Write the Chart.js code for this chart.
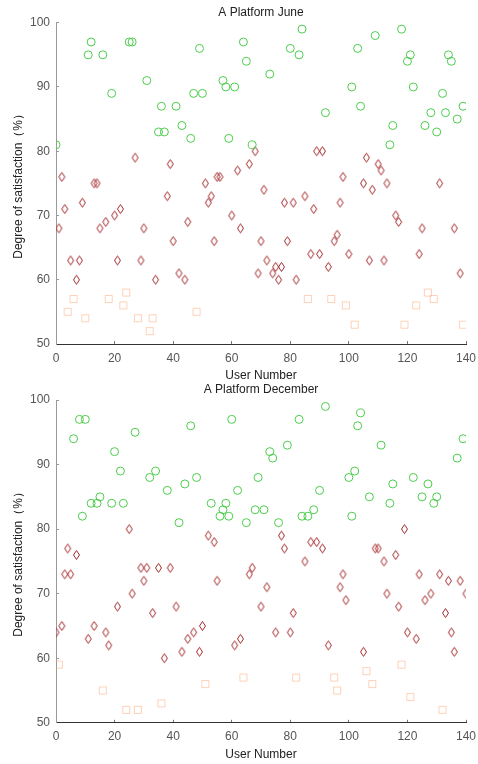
<!DOCTYPE html>
<html>
<head>
<meta charset="utf-8">
<script src="https://cdn.jsdelivr.net/npm/chart.js@4.4.1/dist/chart.umd.min.js"></script>
<style>
  body { margin: 0; background: #fff; }
  canvas { position: absolute; left: 0; }
</style>
</head>
<body>
<canvas id="juneChart" width="478" height="382" style="top:0"></canvas>
<canvas id="decChart" width="478" height="382" style="top:382px"></canvas>
<script>
// satisfaction data, [user number, satisfaction %]
var juneHigh = [[0,81],[11,95],[12,97],[16,95],[19,89],[25,97],[26,97],[31,91],[35,83],[36,87],[37,83],[41,87],[43,84],[46,82],[47,89],[49,96],[50,89],[57,91],[58,90],[59,82],[61,90],[64,97],[65,94],[67,81],[73,92],[80,96],[83,95],[84,99],[92,86],[101,90],[103,96],[104,87],[109,98],[114,81],[115,84],[118,99],[120,94],[121,95],[122,90],[126,84],[128,86],[130,83],[132,89],[133,86],[134,95],[135,94],[137,85],[139,87]];
var juneMid = [[1,68],[2,76],[3,71],[5,63],[7,60],[8,63],[9,72],[13,75],[14,75],[15,68],[17,69],[20,70],[21,63],[22,71],[27,79],[29,63],[30,68],[34,60],[38,73],[39,78],[40,66],[42,61],[44,60],[45,69],[51,75],[52,72],[53,73],[54,66],[55,76],[56,76],[60,70],[62,77],[63,68],[66,78],[68,80],[69,61],[70,66],[71,74],[72,63],[74,61],[75,62],[76,60],[77,62],[78,72],[79,66],[81,72],[82,60],[85,73],[87,64],[88,71],[89,80],[90,64],[91,80],[93,62],[95,66],[96,67],[97,72],[98,76],[100,64],[105,75],[106,79],[107,63],[108,74],[110,78],[111,77],[112,63],[113,75],[116,70],[117,69],[124,64],[125,68],[131,75],[136,68],[138,61]];
var juneLow = [[4,55],[6,57],[10,54],[18,57],[23,56],[24,58],[28,54],[32,52],[33,54],[48,55],[86,57],[94,57],[99,56],[102,53],[119,53],[123,56],[127,58],[129,57],[139,53]];

var decHigh = [[6,94],[8,97],[9,82],[10,97],[12,84],[14,84],[15,85],[19,84],[20,92],[22,89],[23,84],[27,95],[32,88],[34,89],[38,86],[42,81],[44,87],[46,96],[48,88],[53,84],[56,82],[57,83],[58,84],[59,82],[60,97],[62,86],[65,81],[68,83],[69,88],[71,83],[73,92],[74,91],[76,81],[79,93],[83,97],[84,82],[86,82],[88,83],[90,86],[92,99],[100,88],[101,82],[102,89],[103,96],[104,98],[107,85],[111,93],[114,84],[115,87],[122,88],[125,85],[127,87],[129,84],[130,85],[137,91],[139,94]];
var decMid = [[0,64],[2,65],[3,73],[4,77],[5,73],[7,76],[11,63],[13,65],[17,64],[18,62],[21,68],[25,80],[26,70],[29,74],[30,72],[31,74],[33,67],[35,74],[37,60],[39,74],[41,68],[43,61],[45,63],[47,64],[49,61],[50,65],[52,79],[54,78],[55,72],[61,62],[63,63],[66,73],[67,74],[70,68],[72,71],[75,64],[77,79],[78,77],[80,64],[81,67],[85,75],[87,78],[89,78],[91,77],[93,62],[97,71],[98,73],[99,69],[105,61],[109,77],[110,77],[112,75],[113,70],[116,76],[117,68],[119,80],[120,64],[123,63],[124,73],[126,69],[128,70],[131,73],[133,67],[134,72],[135,64],[136,61],[138,72],[140,70]];
var decLow = [[1,59],[16,55],[24,52],[28,52],[36,53],[51,56],[64,57],[82,57],[95,57],[96,55],[106,58],[108,56],[118,59],[121,54],[132,52]];

var xTicks = [0, 20, 40, 60, 80, 100, 120, 140];
var yTicks = [50, 60, 70, 80, 90, 100];

var font = "'Liberation Sans', Arial, sans-serif";

// narrow diamond marker like matlab's
var diamond = document.createElement("canvas");
diamond.width = 9;
diamond.height = 12;
var dc = diamond.getContext("2d");
dc.strokeStyle = "#a3282b";
dc.lineWidth = 1;
dc.beginPath();
dc.moveTo(4.5, 1.5);
dc.lineTo(7.5, 6);
dc.lineTo(4.5, 10.5);
dc.lineTo(1.5, 6);
dc.closePath();
dc.stroke();

function toPoints(arr) {
  return arr.map(function (p) { return { x: p[0], y: p[1] }; });
}

function makeChart(id, title, high, mid, low, titlePad, bottomPad) {
  new Chart(id, {
    type: "scatter",
    data: {
      datasets: [
        {
          data: toPoints(high),
          pointStyle: "circle",
          radius: 4,
          borderWidth: 1,
          borderColor: "#4ccc4c",
          backgroundColor: "rgba(0,0,0,0)"
        },
        {
          data: toPoints(mid),
          pointStyle: diamond,
          borderColor: "#a3282b",
          backgroundColor: "rgba(0,0,0,0)"
        },
        {
          data: toPoints(low),
          pointStyle: "rect",
          radius: 5,
          borderWidth: 1,
          borderColor: "rgba(255,165,115,0.5)",
          backgroundColor: "rgba(0,0,0,0)"
        }
      ]
    },
    options: {
      responsive: false,
      animation: false,
      layout: { padding: { left: 11, right: 12, top: 0, bottom: bottomPad } },
      plugins: {
        legend: { display: false },
        tooltip: { enabled: false },
        title: {
          display: true,
          fullSize: false,
          text: title,
          color: "#222",
          font: { family: font, size: 12, weight: "normal" },
          padding: titlePad
        }
      },
      scales: {
        x: {
          type: "linear",
          min: 0,
          max: 140,
          afterBuildTicks: function (s) { s.ticks = xTicks.map(function (v) { return { value: v }; }); },
          afterFit: function (s) { s.height = 38; s.paddingLeft = 0; s.paddingRight = 0; },
          ticks: { color: "#555", font: { family: font, size: 12 }, padding: 10 },
          grid: { drawOnChartArea: false, tickLength: -3, color: "#777" },
          border: { color: "#333", width: 1 },
          title: {
            display: true,
            text: "User Number",
            color: "#222",
            font: { family: font, size: 12 },
            padding: { top: 0, bottom: -1 }
          }
        },
        y: {
          type: "linear",
          min: 50,
          max: 100,
          afterBuildTicks: function (s) { s.ticks = yTicks.map(function (v) { return { value: v }; }); },
          afterFit: function (s) { s.width = 45; },
          ticks: { color: "#555", font: { family: font, size: 12 }, padding: 9 },
          grid: { drawOnChartArea: false, tickLength: -3, color: "#999" },
          border: { color: "#999", width: 1 },
          title: {
            display: true,
            text: "Degree of satisfaction（%）",
            color: "#222",
            font: { family: font, size: 12 },
            padding: 0
          }
        }
      }
    }
  });
}

makeChart("juneChart", "A Platform June", juneHigh, juneMid, juneLow, { top: 5.5, bottom: 2.8 }, 0);
makeChart("decChart", "A Platform December", decHigh, decMid, decLow, { top: 0.8, bottom: 2.8 }, 3.2);
</script>
</body>
</html>
